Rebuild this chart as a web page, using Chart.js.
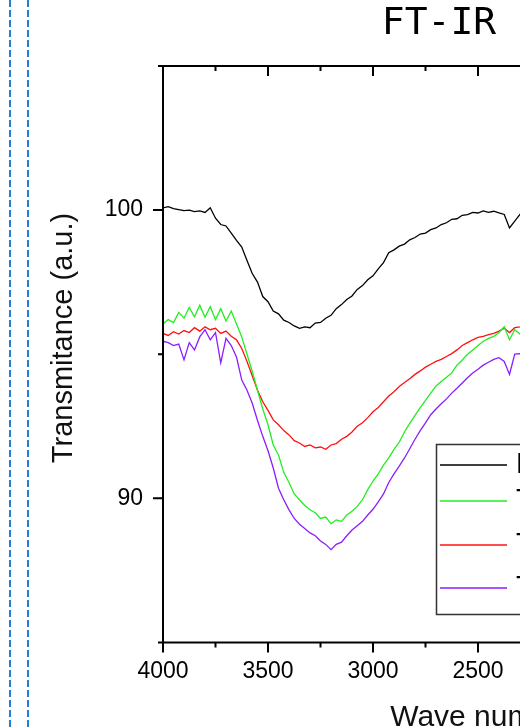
<!DOCTYPE html>
<html>
<head>
<meta charset="utf-8">
<script src="https://cdn.jsdelivr.net/npm/chart.js@4.4.1/dist/chart.umd.min.js"></script>
<style>
  html, body { margin: 0; padding: 0; background: #fff; overflow: hidden; width: 520px; height: 728px; }
  .dash { position: absolute; top: 0; width: 2px; height: 728px;
          background: repeating-linear-gradient(to bottom, #1f80d6 0 7px, transparent 7px 10px); }
  #wrap { position: absolute; left: 0; top: 0; width: 1010px; height: 760px; }
</style>
</head>
<body>
<div class="dash" style="left:9px"></div>
<div class="dash" style="left:27px"></div>
<div id="wrap"><canvas id="ftir"></canvas></div>
<script>
const wavenumbers = [4000, 3975, 3950, 3925, 3900, 3875, 3850, 3825, 3800, 3775, 3750, 3725, 3700, 3675, 3650, 3625,
  3600, 3575, 3550, 3525, 3500, 3475, 3450, 3425, 3400, 3375, 3350, 3325, 3300, 3275, 3250, 3225,
  3200, 3175, 3150, 3125, 3100, 3075, 3050, 3025, 3000, 2975, 2950, 2925, 2900, 2875, 2850, 2825,
  2800, 2775, 2750, 2725, 2700, 2675, 2650, 2625, 2600, 2575, 2550, 2525, 2500, 2475, 2450, 2425,
  2400, 2375, 2350, 2325, 2300, 2275, 2250];

const seriesNames = ['Fresh', 'T1', 'T2', 'T3'];
const seriesColors = ['#000000', '#22ee22', '#ff1010', '#8c1cff'];

const blackT = [100.08, 100.12, 100.05, 100.02, 99.98, 100.0, 99.95, 99.97, 99.92, 100.08, 99.72, 99.5, 99.45, 99.2, 98.95, 98.72,
  98.25, 97.8, 97.5, 97.0, 96.82, 96.5, 96.4, 96.18, 96.1, 95.98, 95.9, 95.95, 95.92, 96.08, 96.1, 96.25,
  96.35, 96.58, 96.72, 96.9, 97.02, 97.25, 97.38, 97.58, 97.72, 97.96, 98.18, 98.52, 98.62, 98.75, 98.82, 98.97,
  99.05, 99.17, 99.2, 99.32, 99.38, 99.5, 99.56, 99.68, 99.7, 99.82, 99.84, 99.92, 99.9, 99.97, 99.92, 99.96,
  99.9, 99.85, 99.38, 99.62, 99.85, 99.9, 99.92];

const greenT = [96.05, 96.2, 96.1, 96.45, 96.25, 96.62, 96.3, 96.7, 96.28, 96.65, 96.2, 96.58, 96.15, 96.5, 96.05, 95.6,
  95.0, 94.4, 93.75, 93.1, 92.55, 91.85, 91.5, 90.9, 90.55, 90.15, 89.95, 89.75, 89.6, 89.5, 89.3, 89.35,
  89.12, 89.25, 89.2, 89.42, 89.55, 89.72, 89.95, 90.3, 90.6, 90.85, 91.15, 91.4, 91.7, 91.95, 92.3, 92.6,
  92.88, 93.15, 93.4, 93.65, 93.9, 94.05, 94.2, 94.35, 94.62, 94.8, 95.0, 95.15, 95.3, 95.45, 95.55, 95.62,
  95.75, 95.95, 95.5, 95.85, 95.7, 95.88, 95.8];

const redT = [95.72, 95.65, 95.78, 95.7, 95.82, 95.75, 95.92, 95.8, 95.95, 95.85, 95.9, 95.72, 95.8, 95.62, 95.5, 95.2,
  94.75, 94.25, 93.75, 93.35, 93.05, 92.72, 92.55, 92.35, 92.2, 92.0, 91.92, 91.8, 91.85, 91.75, 91.78, 91.7,
  91.85, 91.9, 92.05, 92.15, 92.3, 92.5, 92.62, 92.8, 93.0, 93.15, 93.35, 93.55, 93.7, 93.88, 94.02, 94.15,
  94.3, 94.42, 94.55, 94.65, 94.75, 94.82, 94.92, 95.02, 95.15, 95.3, 95.4, 95.5, 95.58, 95.62, 95.68, 95.72,
  95.8, 95.9, 95.75, 95.92, 95.95, 96.0, 96.02];

const purpleT = [95.45, 95.4, 95.3, 95.35, 94.8, 95.4, 95.15, 95.6, 95.85, 95.5, 95.75, 94.7, 95.55, 95.3, 94.9, 94.1,
  93.75, 93.3, 92.7, 92.15, 91.65, 91.05, 90.35, 89.95, 89.6, 89.3, 89.1, 88.95, 88.8, 88.7, 88.52, 88.4,
  88.22, 88.4, 88.48, 88.7, 88.9, 89.05, 89.2, 89.42, 89.62, 89.88, 90.15, 90.55, 90.85, 91.12, 91.4, 91.72,
  92.05, 92.35, 92.62, 92.9, 93.1, 93.28, 93.45, 93.65, 93.82, 94.0, 94.18, 94.35, 94.48, 94.62, 94.72, 94.82,
  94.88, 94.75, 94.3, 95.0, 95.02, 95.0, 95.05];

const xTicks = [4000, 3750, 3500, 3250, 3000, 2750, 2500, 2250, 2000, 1750, 1500, 1250, 1000, 750, 500];
const yTicks = [85, 90, 95, 100, 105];

const allSeries = [blackT, greenT, redT, purpleT];

// axes frame, minor ticks, y title and the boxed legend
const decor = {
  id: 'decor',
  afterDraw(chart) {
    const ctx = chart.ctx;
    const a = chart.chartArea;
    const xs = chart.scales.x, ys = chart.scales.y;
    ctx.save();
    ctx.strokeStyle = '#000';
    ctx.lineWidth = 2;
    ctx.beginPath();
    ctx.rect(a.left, a.top, a.right - a.left, a.bottom - a.top);
    ctx.stroke();

    xTicks.forEach(v => {
      const px = xs.getPixelForValue(v);
      const len = v % 500 === 0 ? 10 : 5;
      ctx.beginPath();
      ctx.moveTo(px, a.bottom); ctx.lineTo(px, a.bottom + len);
      ctx.moveTo(px, a.top); ctx.lineTo(px, a.top + len);
      ctx.stroke();
    });
    yTicks.forEach(v => {
      const py = ys.getPixelForValue(v);
      const len = v % 10 === 0 ? 10 : 5;
      ctx.beginPath();
      ctx.moveTo(a.left - len, py); ctx.lineTo(a.left, py);
      ctx.moveTo(a.right - len, py); ctx.lineTo(a.right, py);
      ctx.stroke();
    });

    ctx.fillStyle = '#111';
    ctx.font = '29px "Liberation Sans", Arial, sans-serif';
    ctx.textAlign = 'center';
    ctx.textBaseline = 'middle';
    ctx.translate(64, 338);
    ctx.rotate(-Math.PI / 2);
    ctx.fillText('Transmitance (a.u.)', 0, 0);
    ctx.restore();

    // legend
    ctx.save();
    ctx.fillStyle = '#fff';
    ctx.strokeStyle = '#333';
    ctx.lineWidth = 1.5;
    ctx.fillRect(436.5, 444.5, 190, 170);
    ctx.strokeRect(436.5, 444.5, 190, 170);
    const rowsY = [465, 501, 545, 588];
    ctx.font = '29px "Liberation Sans", Arial, sans-serif';
    ctx.textBaseline = 'middle';
    ctx.textAlign = 'left';
    seriesNames.forEach((name, i) => {
      ctx.strokeStyle = seriesColors[i];
      ctx.beginPath();
      ctx.moveTo(440, rowsY[i]); ctx.lineTo(507, rowsY[i]);
      ctx.stroke();
      ctx.fillStyle = '#000';
      ctx.fillText(name, 516, rowsY[i]);
    });
    ctx.restore();
  }
};

new Chart(document.getElementById('ftir'), {
  type: 'line',
  data: {
    datasets: allSeries.map((vals, i) => ({
      label: seriesNames[i],
      data: vals.map((v, j) => ({ x: wavenumbers[j], y: v })),
      borderColor: seriesColors[i],
      borderWidth: 1.3,
      pointRadius: 0,
      tension: 0,
      fill: false
    }))
  },
  options: {
    responsive: true,
    maintainAspectRatio: false,
    animation: false,
    layout: { padding: 0 },
    plugins: {
      legend: { display: false },
      tooltip: { enabled: false },
      title: {
        display: true,
        text: 'FT-IR spectra',
        fullSize: false,
        color: '#000',
        font: { family: 'DejaVu Sans Mono', size: 38, weight: 'normal', lineHeight: 1 },
        padding: { top: 5, bottom: 23 }
      }
    },
    scales: {
      x: {
        type: 'linear',
        reverse: true,
        min: 500,
        max: 4000,
        grid: { display: false, drawTicks: true, tickLength: 10 },
        border: { display: false },
        ticks: {
          stepSize: 500,
          padding: 5,
          color: '#000',
          font: { family: '"Liberation Sans", Arial', size: 23 },
          callback: v => v
        },
        title: {
          display: true,
          text: 'Wave number (cm-1)',
          color: '#111',
          font: { family: '"Liberation Sans", Arial', size: 30 },
          padding: { top: 10, bottom: 24 }
        }
      },
      y: {
        min: 85,
        max: 105,
        grid: { display: false, drawTicks: true, tickLength: 10 },
        border: { display: false },
        ticks: {
          stepSize: 5,
          padding: 10,
          color: '#000',
          font: { family: '"Liberation Sans", Arial', size: 23 },
          callback: v => (v % 10 === 0 ? v : '')
        },
        afterFit: s => { s.width = 163; }
      },
      yR: {
        type: 'linear',
        position: 'right',
        grid: { display: false, drawTicks: false },
        border: { display: false },
        ticks: { display: false },
        afterFit: s => { s.width = 112; }
      }
    }
  },
  plugins: [decor]
});
</script>
</body>
</html>
